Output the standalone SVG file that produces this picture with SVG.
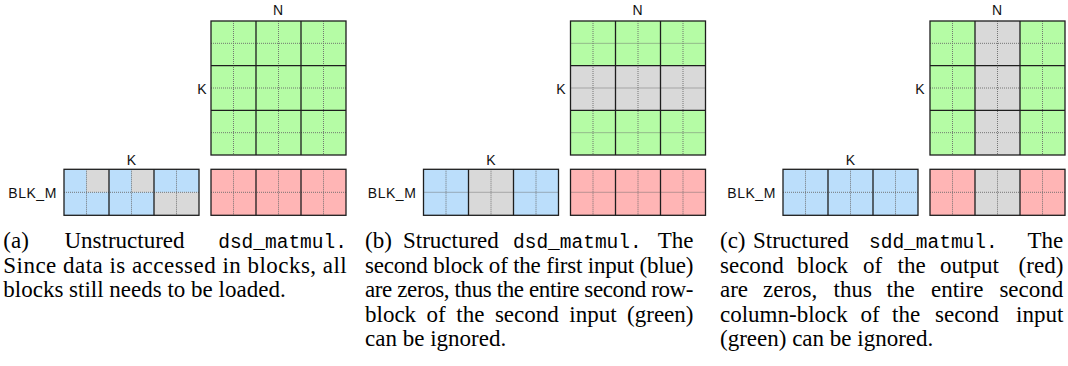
<svg xmlns="http://www.w3.org/2000/svg" xmlns:xlink="http://www.w3.org/1999/xlink" width="1068" height="366" viewBox="0 0 1068 366">
<style>
.blk{stroke:#1e1e1e;stroke-width:1.3;fill:none}
.sub{stroke:#6a6a6a;stroke-width:0.9;stroke-dasharray:1 1;fill:none}
.gr{fill:#b5fca5}
.bl{fill:#bbdefb}
.rd{fill:#ffb5b5}
.zz{fill:#d9d9d9}
.lbl{font-family:"Liberation Sans",Arial,sans-serif;font-size:14px;fill:#111}
.cap{font-family:"Liberation Serif","Times New Roman",serif;font-size:23px;fill:#000}
.mono{font-family:"Liberation Mono","Courier New",monospace;font-size:19.5px}
</style>
<defs>
<g id="gridBig">
<path class="sub" d="M22.5 0V134M67.5 0V134M112.5 0V134M0 22.33H135M0 67H135M0 111.67H135"/>
<path class="blk" d="M45 0V134M90 0V134M0 44.67H135M0 89.33H135"/>
<rect class="blk" x="0" y="0" width="135" height="134"/>
</g>
<g id="gridSmall">
<path class="sub" d="M22.5 0V46M67.5 0V46M112.5 0V46M0 23H135"/>
<path class="blk" d="M45 0V46M90 0V46"/>
<rect class="blk" x="0" y="0" width="135" height="46"/>
</g>
</defs>

<!-- Panel (a) -->
<g id="a_rhs" transform="translate(211,21)">
<rect class="gr" x="0" y="0" width="135" height="134"/>
<use xlink:href="#gridBig" href="#gridBig"/>
</g>
<g id="a_lhs" transform="translate(64,169.3)">
<rect class="bl" x="0" y="0" width="135" height="46"/>
<rect class="zz" x="22.5" y="0" width="22.5" height="23"/>
<rect class="zz" x="67.5" y="0" width="22.5" height="23"/>
<rect class="zz" x="90" y="23" width="45" height="23"/>
<use xlink:href="#gridSmall" href="#gridSmall"/>
</g>
<g id="a_out" transform="translate(211,169.3)">
<rect class="rd" x="0" y="0" width="135" height="46"/>
<use xlink:href="#gridSmall" href="#gridSmall"/>
</g>
<g id="a_labels">
<text class="lbl" x="278" y="14.5" text-anchor="middle">N</text>
<text class="lbl" x="202" y="94" text-anchor="middle">K</text>
<text class="lbl" x="131.5" y="165" text-anchor="middle">K</text>
<text class="lbl" x="8.3" y="198" textLength="48" lengthAdjust="spacing">BLK_M</text>
</g>

<!-- Panel (b) -->
<g id="b_rhs" transform="translate(570.5,21)">
<rect class="gr" x="0" y="0" width="135" height="134"/>
<rect class="zz" x="0" y="44.67" width="135" height="44.67"/>
<use xlink:href="#gridBig" href="#gridBig"/>
</g>
<g id="b_lhs" transform="translate(423.5,169.3)">
<rect class="bl" x="0" y="0" width="135" height="46"/>
<rect class="zz" x="45" y="0" width="45" height="46"/>
<use xlink:href="#gridSmall" href="#gridSmall"/>
</g>
<g id="b_out" transform="translate(570.5,169.3)">
<rect class="rd" x="0" y="0" width="135" height="46"/>
<use xlink:href="#gridSmall" href="#gridSmall"/>
</g>
<g id="b_labels">
<text class="lbl" x="637.5" y="14.5" text-anchor="middle">N</text>
<text class="lbl" x="561" y="94" text-anchor="middle">K</text>
<text class="lbl" x="491" y="165" text-anchor="middle">K</text>
<text class="lbl" x="367.8" y="198" textLength="48" lengthAdjust="spacing">BLK_M</text>
</g>

<!-- Panel (c) -->
<g id="c_rhs" transform="translate(930,21)">
<rect class="gr" x="0" y="0" width="135" height="134"/>
<rect class="zz" x="45" y="0" width="45" height="134"/>
<use xlink:href="#gridBig" href="#gridBig"/>
</g>
<g id="c_lhs" transform="translate(783,169.3)">
<rect class="bl" x="0" y="0" width="135" height="46"/>
<use xlink:href="#gridSmall" href="#gridSmall"/>
</g>
<g id="c_out" transform="translate(930,169.3)">
<rect class="rd" x="0" y="0" width="135" height="46"/>
<rect class="zz" x="45" y="0" width="45" height="46"/>
<use xlink:href="#gridSmall" href="#gridSmall"/>
</g>
<g id="c_labels">
<text class="lbl" x="997" y="14.5" text-anchor="middle">N</text>
<text class="lbl" x="920" y="94" text-anchor="middle">K</text>
<text class="lbl" x="850.5" y="165" text-anchor="middle">K</text>
<text class="lbl" x="727.3" y="198" textLength="48" lengthAdjust="spacing">BLK_M</text>
</g>

<g id="connectors"></g>

<!-- Captions -->
<g id="caption_a" class="cap">
<text y="248"><tspan x="3.3">(a)</tspan><tspan x="64.5">Unstructured</tspan><tspan x="218.2" class="mono">dsd_matmul.</tspan></text>
<text x="3.3" y="272.5" textLength="343.4" lengthAdjust="spacing">Since data is accessed in blocks, all</text>
<text x="3.3" y="297">blocks still needs to be loaded.</text>
</g>
<g id="caption_b" class="cap">
<text y="248"><tspan x="365">(b)</tspan><tspan x="403">Structured</tspan><tspan x="513" class="mono">dsd_matmul.</tspan></text>
<text x="693.5" y="248" text-anchor="end">The</text>
<text x="365" y="272.5" textLength="328.5" lengthAdjust="spacing">second block of the first input (blue)</text>
<text x="365" y="297" textLength="328.5" lengthAdjust="spacing">are zeros, thus the entire second row-</text>
<text y="321.5"><tspan x="365">block</tspan><tspan x="426.6">of</tspan><tspan x="456.3">the</tspan><tspan x="494.9">second</tspan><tspan x="569.3">input</tspan></text>
<text x="693.5" y="321.5" text-anchor="end">(green)</text>
<text x="365" y="346">can be ignored.</text>
</g>
<g id="caption_c" class="cap">
<text y="248"><tspan x="720">(c)</tspan><tspan x="753">Structured</tspan><tspan x="869" class="mono">sdd_matmul.</tspan></text>
<text x="1063.3" y="248" text-anchor="end">The</text>
<text y="272.5"><tspan x="720">second</tspan><tspan x="797">block</tspan><tspan x="863">of</tspan><tspan x="897.5">the</tspan><tspan x="940">output</tspan></text>
<text x="1063.3" y="272.5" text-anchor="end">(red)</text>
<text y="297"><tspan x="720">are</tspan><tspan x="763">zeros,</tspan><tspan x="833.5">thus</tspan><tspan x="886.5">the</tspan><tspan x="931">entire</tspan></text>
<text x="1063.3" y="297" text-anchor="end">second</text>
<text y="321.5"><tspan x="720">column-block</tspan><tspan x="860.5">of</tspan><tspan x="892">the</tspan><tspan x="935">second</tspan></text>
<text x="1063.3" y="321.5" text-anchor="end">input</text>
<text x="720" y="346">(green) can be ignored.</text>
</g>
</svg>
